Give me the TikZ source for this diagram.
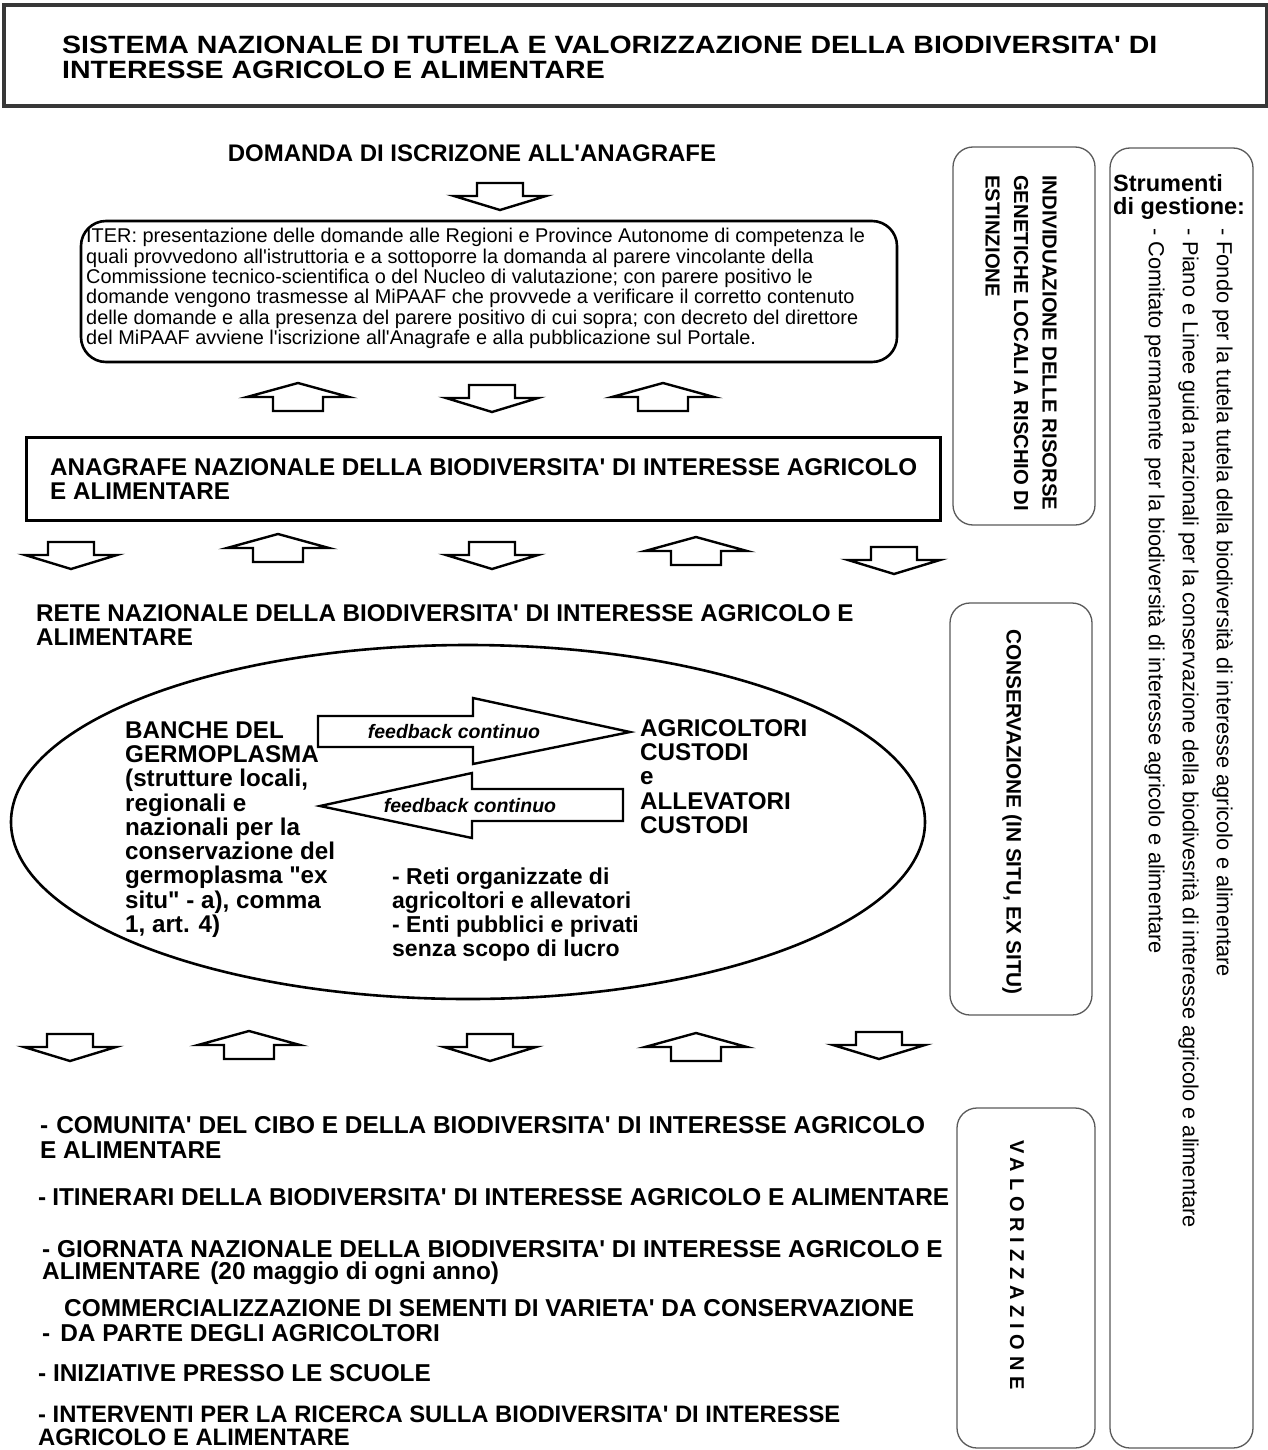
\documentclass[tikz,border=0pt]{standalone}
\usepackage{fontspec}
\setmainfont{Liberation Sans}[Ligatures=TeXOff]
\newfontfamily\widefont{Liberation Sans}[FakeStretch=1.14, Ligatures=TeXOff]
\usetikzlibrary{positioning}
\definecolor{framegray}{RGB}{55,55,55}
\definecolor{sidegray}{RGB}{90,90,90}

\begin{document}
\begin{tikzpicture}[
    x=1pt, y=-1pt,
    every node/.style={inner sep=0pt},
    bigtext/.style={font=\fontsize{24.2}{24.5}\selectfont\bfseries, align=left, anchor=north west},
    itertext/.style={font=\fontsize{19.9}{20.4}\selectfont, align=left, anchor=north west},
    ovaltext/.style={font=\fontsize{24.2}{24.3}\selectfont\bfseries, align=left, anchor=north west},
    listtext/.style={font=\fontsize{24.4}{25}\selectfont\bfseries, anchor=west},
    sidebox/.style={draw=sidegray, line width=1.3pt, rounded corners=20},
    sidetext/.style={font=\fontsize{20.3}{28.5}\selectfont\bfseries, align=left, rotate=-90},
    tooltext/.style={font=\fontsize{21.8}{34}\selectfont, align=left, rotate=-90, anchor=north west},
    blockline/.style={draw=black, line width=2.4pt, fill=white, line join=miter},
    feedtext/.style={font=\fontsize{19.5}{20}\selectfont\bfseries\itshape},
    pics/downarr/.style={code={
        \draw[blockline] (-23,0) -- (23,0) -- (23,13) -- (46,13) -- (0,27)
            -- (-46,13) -- (-23,13) -- cycle;}},
    pics/uparr/.style={code={
        \draw[blockline] (0,0) -- (51,14) -- (25,14) -- (25,28) -- (-25,28)
            -- (-25,14) -- (-51,14) -- cycle;}}
]
\useasboundingbox (0,0) rectangle (1268,1450);
\fill[white] (0,0) rectangle (1268,1450);

% title
\draw[framegray, line width=3.5pt] (4,5) rectangle (1267,106);
\node[bigtext, font=\widefont\fontsize{25}{25}\selectfont\bfseries] (title) at (62,36)
    {SISTEMA NAZIONALE DI TUTELA E VALORIZZAZIONE DELLA BIODIVERSITA' DI\\
     INTERESSE AGRICOLO E ALIMENTARE};

% domanda e iter
\node[font=\fontsize{24}{24}\selectfont\bfseries] (domanda) at (472,153)
    {DOMANDA DI ISCRIZONE ALL'ANAGRAFE};
\pic (d0) at (500,183) {downarr};
\draw[black, line width=2.6pt, rounded corners=25] (81,221) rectangle (897,362);
\node[itertext] (iter) at (86,228)
    {ITER: presentazione delle domande alle Regioni e Province Autonome di competenza le\\
     quali provvedono all'istruttoria e a sottoporre la domanda al parere vincolante della\\
     Commissione tecnico-scientifica o del Nucleo di valutazione; con parere positivo le\\
     domande vengono trasmesse al MiPAAF che provvede a verificare il corretto contenuto\\
     delle domande e alla presenza del parere positivo di cui sopra; con decreto del direttore\\
     del MiPAAF avviene l'iscrizione all'Anagrafe e alla pubblicazione sul Portale.};

\pic (u1) at (298,383) {uparr};
\pic (d1) at (492,385) {downarr};
\pic (u2) at (663,383) {uparr};

% anagrafe
\draw[black, line width=3pt] (26,437) rectangle (940,520);
\node[bigtext] (anagrafe) at (50,458)
    {ANAGRAFE NAZIONALE DELLA BIODIVERSITA' DI INTERESSE AGRICOLO\\
     E ALIMENTARE};

\pic (d2) at (71,542) {downarr};
\pic (u3) at (278,534) {uparr};
\pic (d3) at (492,542) {downarr};
\pic (u4) at (696,537) {uparr};
\pic (d4) at (894,547) {downarr};

% rete
\node[bigtext] (rete) at (36,604)
    {RETE NAZIONALE DELLA BIODIVERSITA' DI INTERESSE AGRICOLO E\\
     ALIMENTARE};
\draw[black, line width=2.6pt] (468,822) ellipse [x radius=457, y radius=177];

\node[ovaltext] (banche) at (125,721)
    {BANCHE DEL\\ GERMOPLASMA\\ (strutture locali,\\ regionali e\\ nazionali per la\\
     conservazione del\\ germoplasma "ex\\ situ" - a), comma\\ 1, art. 4)};
\node[ovaltext] (custodi) at (640,719)
    {AGRICOLTORI\\ CUSTODI\\ e\\ ALLEVATORI\\ CUSTODI};
\node[ovaltext, font=\fontsize{23}{24}\selectfont\bfseries] (reti) at (392,868)
    {- Reti organizzate di\\ agricoltori e allevatori\\ - Enti pubblici e privati\\
     senza scopo di lucro};

\draw[blockline] (318,716) -- (473,716) -- (473,698) -- (630,732) -- (473,764)
    -- (473,747) -- (318,747) -- cycle;
\node[feedtext] (fbtop) at (454,732) {feedback continuo};
\draw[blockline] (623,789) -- (472,789) -- (472,773) -- (320,806) -- (472,838)
    -- (472,821) -- (623,821) -- cycle;
\node[feedtext] (fbbot) at (470,806) {feedback continuo};

\pic (d5) at (70,1034) {downarr};
\pic (u5) at (249,1031) {uparr};
\pic (d6) at (490,1034) {downarr};
\pic (u6) at (696,1033) {uparr};
\pic (d7) at (879,1032) {downarr};

% valorizzazione
\node[listtext] (comunita) at (40,1125)
    {-\hspace{8pt}COMUNITA' DEL CIBO E DELLA BIODIVERSITA' DI INTERESSE AGRICOLO};
\node[listtext] (comunita2) at (40,1150) {E ALIMENTARE};
\node[listtext] (itinerari) at (38,1197)
    {-\hspace{6pt}ITINERARI DELLA BIODIVERSITA' DI INTERESSE AGRICOLO E ALIMENTARE};
\node[listtext] (giornata) at (42,1249)
    {- GIORNATA NAZIONALE DELLA BIODIVERSITA' DI INTERESSE AGRICOLO E};
\node[listtext] (giornata2) at (42,1273)
    {ALIMENTARE\hspace{10pt}(20 maggio di ogni anno)};
\node[listtext] (sementi) at (64,1308)
    {COMMERCIALIZZAZIONE DI SEMENTI DI VARIETA' DA CONSERVAZIONE};
\node[listtext] (sementi2) at (42,1333) {-\hspace{10pt}DA PARTE DEGLI AGRICOLTORI};
\node[listtext] (scuole) at (38,1373) {- INIZIATIVE PRESSO LE SCUOLE};
\node[bigtext, font=\fontsize{23.8}{22.5}\selectfont\bfseries] (ricerca) at (38,1406)
    {- INTERVENTI PER LA RICERCA SULLA BIODIVERSITA' DI INTERESSE\\
     AGRICOLO E ALIMENTARE};

% colonne laterali
\draw[sidebox] (953,147) rectangle (1095,525);
\node[sidetext, anchor=north west] (risorse) at (1057,175)
    {INDIVIDUAZIONE DELLE RISORSE\\ GENETICHE LOCALI A RISCHIO DI\\ ESTINZIONE};
\draw[sidebox] (950,603) rectangle (1092,1015);
\node[sidetext, font=\fontsize{20.8}{24}\selectfont\bfseries] (conserv) at (1012,812)
    {CONSERVAZIONE (IN SITU, EX SITU)};
\draw[sidebox] (957,1108) rectangle (1095,1448);
\node[sidetext, font=\fontsize{20}{24}\selectfont\bfseries\addfontfeatures{LetterSpace=29}]
    (valor) at (1017,1265) {VALORIZZAZIONE};

\draw[sidebox] (1110,148) rectangle (1253,1448);
\node[font=\fontsize{23.5}{23}\selectfont\bfseries, align=left, anchor=north west]
    (strumenti) at (1113,174) {Strumenti\\ di gestione:};
\node[tooltext] (tools) at (1233,228)
    {- Fondo per la tutela tutela della biodiversità di interesse agricolo e alimentare\\
     - Piano e Linee guida nazionali per la conservazione della biodivesrità di interesse agricolo e alimentare\\
     - Comitato permanente per la biodiversità di interesse agricolo e alimentare};

\end{tikzpicture}
\end{document}
